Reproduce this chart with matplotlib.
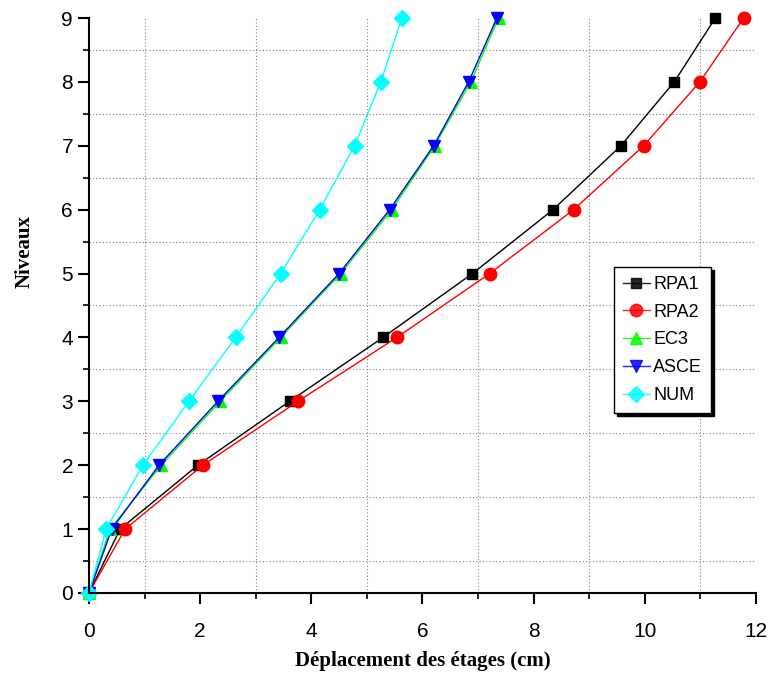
import numpy as np
import matplotlib
matplotlib.use("Agg")
import matplotlib.pyplot as plt
from matplotlib.ticker import MultipleLocator

# niveaux et déplacements (cm)
niveaux = [0, 1, 2, 3, 4, 5, 6, 7, 8, 9]
rpa1 = [0, 0.56, 1.96, 3.61, 5.29, 6.90, 8.35, 9.57, 10.53, 11.27]
rpa2 = [0, 0.65, 2.05, 3.76, 5.54, 7.21, 8.72, 9.98, 10.99, 11.78]
ec3 = [0, 0.38, 1.30, 2.36, 3.45, 4.53, 5.45, 6.22, 6.87, 7.37]
asce = [0, 0.41, 1.26, 2.32, 3.42, 4.50, 5.41, 6.20, 6.83, 7.34]
num = [0, 0.31, 0.97, 1.80, 2.64, 3.45, 4.15, 4.78, 5.25, 5.63]

series = [
    ("RPA1", rpa1, "black", "s", 7),
    ("RPA2", rpa2, "red", "o", 9),
    ("EC3", ec3, "#00ff00", "^", 9),
    ("ASCE", asce, "blue", "v", 9),
    ("NUM", num, "cyan", "D", 8),
]

plt.rcParams['font.family'] = ['Liberation Sans', 'DejaVu Sans']

fig = plt.figure(figsize=(7.69, 6.8), dpi=100)
ax = fig.add_axes([0.1157, 0.128, 0.8673, 0.8455])

for nom, x, c, m, ms in series:
    ax.plot(x, niveaux, color=c, lw=1.0, marker=m, ms=ms, mec=c, mfc=c,
            label=nom, clip_on=False)

ax.set_xlim(0, 12)
ax.set_ylim(0, 9)
ax.xaxis.set_major_locator(MultipleLocator(2))
ax.xaxis.set_minor_locator(MultipleLocator(1))
ax.yaxis.set_major_locator(MultipleLocator(1))
ax.yaxis.set_minor_locator(MultipleLocator(0.5))
ax.grid(which='minor', ls=(0, (1, 2)), color='gray', lw=0.8)
ax.tick_params(which='major', direction='out', length=8, width=1.5, labelsize=15)
ax.tick_params(axis='x', which='major', pad=13)
ax.tick_params(which='minor', direction='out', length=4, width=1.2)
for s in ['top', 'right']:
    ax.spines[s].set_visible(False)
for s in ['left', 'bottom']:
    ax.spines[s].set_linewidth(1.5)

ax.set_xlabel('Déplacement des étages (cm)', family='Liberation Serif',
              fontweight='bold', fontsize=15, labelpad=7)
fig.text(25 / 769, 1 - 252 / 680, 'Niveaux', family='Liberation Serif',
         fontweight='bold', fontsize=15, rotation=90, ha='center', va='center')

leg = ax.legend(loc='center', bbox_to_anchor=(0.86, 0.44), fontsize=13,
                frameon=True, fancybox=False, shadow={'color': 'black', 'alpha': 1},
                handlelength=1.5, borderpad=0.5, labelspacing=0.6,
                handletextpad=0.2, borderaxespad=0)
leg.get_frame().set_edgecolor('black')
leg.get_frame().set_linewidth(1.0)
for h in leg.legend_handles:
    h.set_alpha(0.85)

fig.savefig('out.png', dpi=100)
